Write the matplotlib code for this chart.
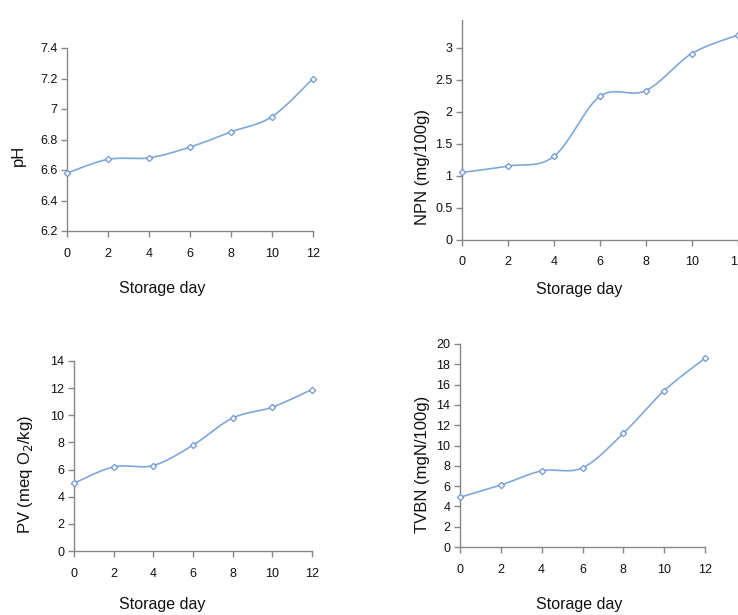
import numpy as np
import matplotlib
matplotlib.use("Agg")
import matplotlib.pyplot as plt
from matplotlib.patches import Rectangle

days = [0, 2, 4, 6, 8, 10, 12]
ph = [6.58, 6.67, 6.68, 6.75, 6.85, 6.95, 7.20]
npn = [1.05, 1.15, 1.30, 2.24, 2.33, 2.91, 3.20]
pv = [5.0, 6.2, 6.3, 7.8, 9.8, 10.6, 11.9]
tvbn = [4.9, 6.1, 7.5, 7.8, 11.2, 15.4, 18.6]

ph_ticks = [6.2, 6.4, 6.6, 6.8, 7.0, 7.2, 7.4]
ph_labels = ["6.2", "6.4", "6.6", "6.8", "7", "7.2", "7.4"]
npn_ticks = [0, 0.5, 1, 1.5, 2, 2.5, 3, 3.5]
npn_labels = ["0", "0.5", "1", "1.5", "2", "2.5", "3", "3.5"]
pv_ticks = [0, 2, 4, 6, 8, 10, 12, 14]
tvbn_ticks = [0, 2, 4, 6, 8, 10, 12, 14, 16, 18, 20]

plt.rcParams['font.family'] = ['Liberation Sans', 'DejaVu Sans']

W, H = 738, 615
fig = plt.figure(figsize=(W / 100, H / 100), dpi=100)

LINE = "#7FA8DA"
MARK = "#7099D0"
AXC = "#888888"


def smooth(x, y, n=30):
    # Excel-like smoothing: cubic Bezier with Catmull-Rom control points (tension 1/6)
    x = np.asarray(x, float)
    y = np.asarray(y, float)
    P = np.column_stack([x, y])
    out = [P[0]]
    for i in range(len(P) - 1):
        p0 = P[i - 1] if i > 0 else P[i]
        p1 = P[i]
        p2 = P[i + 1]
        p3 = P[i + 2] if i + 2 < len(P) else P[i + 1]
        c1 = p1 + (p2 - p0) / 6.0
        c2 = p2 - (p3 - p1) / 6.0
        t = np.linspace(0, 1, n)[1:, None]
        pts = ((1 - t) ** 3) * p1 + 3 * ((1 - t) ** 2) * t * c1 + 3 * (1 - t) * t ** 2 * c2 + t ** 3 * p2
        out.extend(pts)
    out = np.array(out)
    return out[:, 0], out[:, 1]


def panel(px, vals, yticks, ylabels, ylim, ylabel, xlab_pos, ylab_pos):
    l, t, r, b = px
    ax = fig.add_axes([l / W, 1 - b / H, (r - l) / W, (b - t) / H])
    sx, sy = smooth(days, vals)
    ax.plot(sx, sy, color=LINE, lw=1.2, clip_on=False, zorder=3)
    ax.plot(days, vals, ls="none", marker="D", ms=3.2, mfc="white", mec=MARK,
            mew=0.9, clip_on=False, zorder=4)
    ax.set_xlim(0, 12)
    ax.set_ylim(*ylim)
    ax.set_xticks(days)
    ax.set_yticks(yticks)
    ax.set_yticklabels(ylabels)
    for s in ("top", "right"):
        ax.spines[s].set_visible(False)
    for s in ("left", "bottom"):
        ax.spines[s].set_color(AXC)
        ax.spines[s].set_linewidth(1.0)
    ax.tick_params(axis="both", colors=AXC, labelcolor="#111111", labelsize=9,
                   length=4, width=1.0, direction="out")
    ax.tick_params(axis="x", pad=8)
    ax.tick_params(axis="y", pad=3)
    fig.text(xlab_pos[0] / W, 1 - xlab_pos[1] / H, "Storage day",
             ha="center", va="center", fontsize=11.5, color="#111111")
    fig.text(ylab_pos[0] / W, 1 - ylab_pos[1] / H, ylabel, rotation=90,
             ha="center", va="center", fontsize=12, color="#111111")
    return ax


panel((67, 48, 313, 231), ph, ph_ticks, ph_labels, (6.2, 7.4), "pH",
      (162, 288), (18, 155))
panel((462, 16, 737.5, 239.5), npn, npn_ticks, npn_labels, (0, 3.5),
      "NPN (mg/100g)", (579, 289), (422, 167))
panel((74, 361, 312, 551), pv, pv_ticks, [str(v) for v in pv_ticks], (0, 14),
      "PV (meq O$_2$/kg)", (162, 605), (26, 474))
panel((460, 344, 705, 547), tvbn, tvbn_ticks, [str(v) for v in tvbn_ticks], (0, 20),
      "TVBN (mgN/100g)", (579, 605), (422, 464))

# the reference image is cropped at the top of the NPN panel
fig.patches.append(Rectangle((400 / W, 1 - 19.5 / H), 338 / W, 19.5 / H,
                             transform=fig.transFigure, facecolor="white",
                             edgecolor="none", zorder=10))

fig.savefig("out.png", dpi=100)
